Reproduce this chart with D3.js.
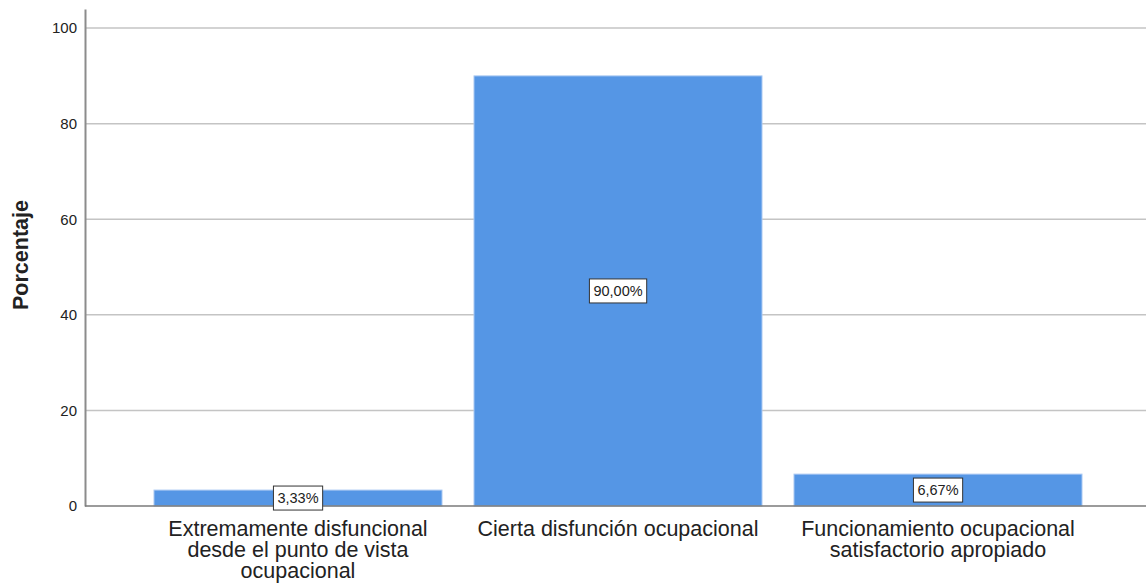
<!DOCTYPE html>
<html>
<head>
<meta charset="utf-8">
<script src="https://cdn.jsdelivr.net/npm/d3@7"></script>
<style>
  body { margin: 0; background: #fff; }
  text { font-family: "Liberation Sans", Arial, sans-serif; fill: #222; }
</style>
</head>
<body>
<div id="container"></div>
<script>
const categories = [
    ["Extremamente disfuncional", "desde el punto de vista", "ocupacional"],
    ["Cierta disfunción ocupacional"],
    ["Funcionamiento ocupacional", "satisfactorio apropiado"]
];
const values = [3.33, 90.00, 6.67];
const labels = ["3,33%", "90,00%", "6,67%"];
const yTicks = [0, 20, 40, 60, 80, 100];

const w = 1146, h = 583;
const plot = {left: 85, right: 1146, top: 9, bottom: 506};

const svg = d3.select("#container")
    .append("svg")
    .attr("width", w)
    .attr("height", h);

const xScale = d3.scaleBand()
    .domain(d3.range(values.length))
    .range([90, plot.right])
    .paddingInner(0.1)
    .paddingOuter(0.2);

const yScale = d3.scaleLinear()
    .domain([0, 104])
    .range([plot.bottom, plot.top]);

// gridlines
svg.append("g")
    .selectAll("line")
    .data(yTicks.filter((d) => d > 0))
    .enter()
    .append("line")
    .attr("x1", plot.left)
    .attr("x2", plot.right)
    .attr("y1", (d) => yScale(d))
    .attr("y2", (d) => yScale(d))
    .attr("stroke", "#c4c4c4")
    .attr("stroke-width", 1.5);

// bars
svg.selectAll("rect.bar")
    .data(values)
    .enter()
    .append("rect")
    .attr("class", "bar")
    .attr("x", (d, i) => xScale(i))
    .attr("y", (d) => yScale(d))
    .attr("width", xScale.bandwidth())
    .attr("height", (d) => yScale(0) - yScale(d))
    .attr("fill", "#5596e5")
    .attr("stroke", "#a9c8f2")
    .attr("stroke-width", 1);

// y axis
const yAxis = d3.axisLeft(yScale)
    .tickValues(yTicks)
    .tickSize(0)
    .tickPadding(8);

const gy = svg.append("g")
    .attr("transform", "translate(" + plot.left + ",0)")
    .call(yAxis);
gy.select(".domain").attr("stroke", "#8c8c8c").attr("stroke-width", 2);
gy.selectAll("text")
    .style("font-size", "15px")
    .attr("fill", "#222");

// x baseline
svg.append("line")
    .attr("x1", plot.left)
    .attr("x2", plot.right)
    .attr("y1", yScale(0))
    .attr("y2", yScale(0))
    .attr("stroke", "#7a7a7a")
    .attr("stroke-width", 1.5);

// category labels
const catGroups = svg.selectAll("text.cat")
    .data(categories)
    .enter()
    .append("text")
    .attr("class", "cat")
    .attr("text-anchor", "middle")
    .style("font-size", "21.5px");

catGroups.selectAll("tspan")
    .data((d, i) => d.map((line) => ({line: line, i: i})))
    .enter()
    .append("tspan")
    .attr("x", (d) => xScale(d.i) + xScale.bandwidth() / 2)
    .attr("y", (d, j) => 536 + j * 21)
    .text((d) => d.line);

// value labels
const lab = svg.selectAll("g.lab")
    .data(values)
    .enter()
    .append("g")
    .attr("class", "lab")
    .attr("transform", (d, i) =>
        "translate(" + (xScale(i) + xScale.bandwidth() / 2) + "," + ((yScale(d) + yScale(0)) / 2) + ")");

lab.append("text")
    .attr("text-anchor", "middle")
    .attr("dy", "0.36em")
    .style("font-size", "14.5px")
    .text((d, i) => labels[i]);

lab.each(function() {
    const g = d3.select(this);
    const bb = g.select("text").node().getBBox();
    g.insert("rect", "text")
        .attr("x", bb.x - 4)
        .attr("y", -12)
        .attr("width", bb.width + 8)
        .attr("height", 24)
        .attr("fill", "#fff")
        .attr("stroke", "#333")
        .attr("stroke-width", 1);
});

// y title
svg.append("text")
    .attr("transform", "translate(28,255) rotate(-90)")
    .attr("text-anchor", "middle")
    .style("font-size", "21.5px")
    .style("font-weight", "bold")
    .text("Porcentaje");
</script>
</body>
</html>
